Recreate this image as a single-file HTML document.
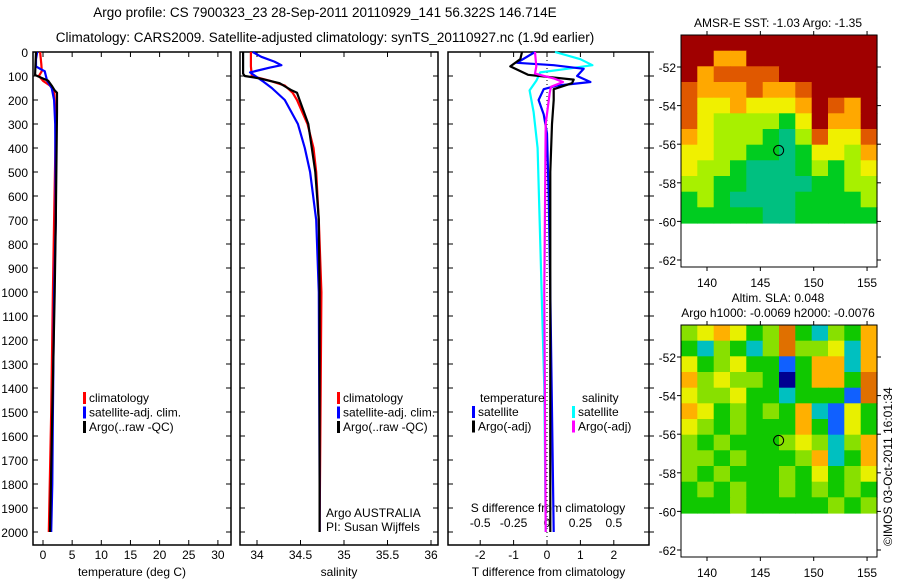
<!DOCTYPE html>
<html><head><meta charset="utf-8"><style>
body{margin:0;background:#fff}
svg{display:block;font-family:"Liberation Sans",sans-serif}
text{font-size:12px;fill:#000}
</style></head><body>
<svg id="fig" width="900" height="580" viewBox="0 0 900 580">
<text x="325" y="17" text-anchor="middle" style="font-size:13.5px">Argo profile: CS 7900323_23 28-Sep-2011 20110929_141 56.322S 146.714E</text>
<text x="325" y="42" text-anchor="middle" style="font-size:13.5px">Climatology: CARS2009. Satellite-adjusted climatology: synTS_20110927.nc (1.9d earlier)</text>
<text x="778" y="27" text-anchor="middle">AMSR-E SST: -1.03 Argo: -1.35</text>
<text x="778" y="302" text-anchor="middle">Altim. SLA: 0.048</text>
<text x="778" y="317" text-anchor="middle">Argo h1000: -0.0069 h2000: -0.0076</text>
<text transform="translate(892,546) rotate(-90)">©IMOS 03-Oct-2011 16:01:34</text>
<g id="g"></g>
</svg>
<script>
// ---- profile data ----
const depthTicks=[0,100,200,300,400,500,600,700,800,900,1000,1100,1200,1300,1400,1500,1600,1700,1800,1900,2000];
const tempTicks=[0,5,10,15,20,25,30];
const salTicks=[34,34.5,35,35.5,36];
const tdTicks=[-2,-1,0,1,2];
const sdTicks=[-0.5,-0.25,0,0.25,0.5];
const sdTickLabels=['-0.5','-0.25','0','0.25','0.5'];
const tArgoD=[0,30,60,96,105,120,140,160,170,250,700,1000,1500,2000];
const tArgoV=[-1.2,-1.25,-1.3,-1.35,-0.5,0.9,1.5,2.0,2.4,2.4,2.2,2.0,1.6,1.2];
const tClimD=[0,50,80,100,120,140,160,200,300,700,1000,1500,2000];
const tClimV=[-0.5,-0.3,-0.2,-0.7,0,1.2,1.9,2.0,2.2,1.9,1.7,1.4,1.0];
const tSatD=[0,30,60,70,80,100,120,150,200,300,700,1000,1500,1800,2000];
const tSatV=[-1.0,-1.2,-1.2,-0.5,0.3,0.5,0.7,1.5,1.9,2.1,2.2,1.9,1.7,1.6,1.4];
const sArgoD=[0,90,100,110,130,160,170,200,300,400,500,700,1000,2000];
const sArgoV=[33.84,33.84,33.86,34.03,34.26,34.40,34.46,34.49,34.59,34.63,34.67,34.71,34.72,34.72];
const sClimD=[0,60,100,120,140,170,200,300,400,500,700,1000,2000];
const sClimV=[33.93,33.93,33.94,34.15,34.32,34.41,34.46,34.58,34.65,34.68,34.71,34.74,34.72];
const sSatD=[0,20,40,55,65,85,100,120,150,200,300,400,500,700,1000,1800,2000];
const sSatV=[33.95,34.05,34.2,34.28,34.15,33.92,33.98,34.06,34.17,34.32,34.47,34.55,34.61,34.68,34.71,34.72,34.72];
const dTArgoD=[0,30,60,95,115,130,155,200,300,500,2000];
const dTArgoV=[-0.75,-0.8,-1.1,-0.57,0.8,0.75,0.2,0.2,0.15,0.1,0.1];
const dTSatD=[0,45,55,70,100,125,140,155,200,260,340,600,1000,2000];
const dTSatV=[-0.36,-0.9,0.2,1.1,0.9,1.3,0.3,-0.1,-0.25,-0.1,0,0.05,0.1,0.2];
const dSSatD=[0,30,55,70,85,120,160,250,400,800,1400,2000];
const dSSatV=[0.06,0.25,0.34,0.15,-0.05,-0.08,-0.13,-0.1,-0.07,-0.05,-0.02,-0.01];
const dSArgoD=[0,60,90,110,125,145,170,300,1000,2000];
const dSArgoV=[-0.09,-0.08,-0.09,0.05,0.12,0.03,0.02,-0.01,-0.02,-0.01];
// ---- map data ----
const sstRows=["666666666666","664466666666","645555666666","544454456666","533433346546","532222136446","432221025335","332211013324","322100012123","221100001122","121000011112","111110011111"];
const sstColors=["#00c080","#00cc20","#a8f000","#f0f000","#ffa800","#e05800","#a00000"];
const slaRows=["456534732436","324324744526","534533136626","645443036637","544533233317","653434362153","543433363153","434333454246","443433346236","434333435345","343433434343","333433333434"];
const slaColors=["#000090","#1060ff","#00c0c0","#10c800","#88e000","#e8f000","#ffb000","#e07000"];

const NS='http://www.w3.org/2000/svg';
const G=document.getElementById('g');
function mk(tag,attrs,parent){const e=document.createElementNS(NS,tag);for(const k in attrs)e.setAttribute(k,attrs[k]);(parent||G).appendChild(e);return e;}
function txt(x,y,s,anchor,parent){const t=mk('text',{x:x,y:y,'text-anchor':anchor||'start'},parent);t.textContent=s;return t;}

const TOP=52,BOT=545;
const yD=d=>TOP+d*0.24;
const panels=[
 {l:33,r:231,name:'temperature-panel',x:v=>43+5.83*v,ticks:tempTicks,labels:tempTicks.map(String),xlabel:'temperature (deg C)'},
 {l:240,r:438,name:'salinity-panel',x:v=>257+87*(v-34),ticks:salTicks,labels:salTicks.map(String),xlabel:'salinity'},
 {l:448,r:649,name:'difference-panel',x:v=>547+33.4*v,ticks:tdTicks,labels:tdTicks.map(String),xlabel:'T difference from climatology'}
];
panels.forEach((p,i)=>{
 const pg=mk('g',{});
 
 
 mk('rect',{x:p.l,y:TOP,width:p.r-p.l,height:BOT-TOP,fill:'#fff',stroke:'#000','stroke-width':1.5},pg);
 depthTicks.forEach(d=>{
  mk('line',{x1:p.l,x2:p.l+5,y1:yD(d),y2:yD(d),stroke:'#000'},pg);
  mk('line',{x1:p.r,x2:p.r-5,y1:yD(d),y2:yD(d),stroke:'#000'},pg);
  if(i==2) mk('line',{x1:p.r,x2:p.r+5,y1:yD(d),y2:yD(d),stroke:'#000'},pg);
 });
 p.ticks.forEach((v,j)=>{
  const x=p.x(v);
  mk('line',{x1:x,x2:x,y1:TOP,y2:TOP+5,stroke:'#000'},pg);
  mk('line',{x1:x,x2:x,y1:BOT,y2:BOT-5,stroke:'#000'},pg);
  const t=txt(x,559,p.labels[j],'middle',pg);
  
  
 });
 const xl=txt((p.l+p.r)/2,576,p.xlabel,'middle',pg);
 
 
});
depthTicks.forEach(d=>{
 const t=txt(28,yD(d)+5,String(d),'end');
 
 
});
const pd=panels[2];
sdTicks.forEach((v,j)=>{
 const t=txt(pd.x(v*4),527,sdTickLabels[j],'middle');
 
 
});
const sdl=txt(548,512,'S difference from climatology','middle');


const zl=mk('line',{x1:pd.x(0),x2:pd.x(0),y1:TOP,y2:BOT,stroke:'#000','stroke-dasharray':'1,3'});



function series(p,D,V,color,name,scale){
 const pts=D.map((d,k)=>p.x(V[k]*(scale||1)).toFixed(1)+','+yD(d).toFixed(1)).join(' ');
 const pl=mk('polyline',{points:pts,fill:'none',stroke:color,'stroke-width':2.2,'stroke-linejoin':'round'});
 
 
}
series(panels[0],tClimD,tClimV,'#f00','temp-climatology-line');
series(panels[0],tSatD,tSatV,'#00f','temp-satellite-line');
series(panels[0],tArgoD,tArgoV,'#000','temp-argo-line');
series(panels[1],sClimD,sClimV,'#f00','sal-climatology-line');
series(panels[1],sSatD,sSatV,'#00f','sal-satellite-line');
series(panels[1],sArgoD,sArgoV,'#000','sal-argo-line');
series(pd,dSSatD,dSSatV,'#0ff','s-diff-satellite-line',4);
series(pd,dTSatD,dTSatV,'#00f','t-diff-satellite-line');
series(pd,dTArgoD,dTArgoV,'#000','t-diff-argo-line');
series(pd,dSArgoD,dSArgoV,'#f0f','s-diff-argo-line',4);

function legend(x,y,items,name){
 const lg=mk('g',{});
 
 
 items.forEach((it,k)=>{
  if(it[1]) mk('rect',{x:x,y:y+k*14.5-10,width:3,height:12,fill:it[1]},lg);
  txt(x+(it[1]?6:0),y+k*14.5,it[0],'start',lg);
 });
}
legend(83,402,[['climatology','#f00'],['satellite-adj. clim.','#00f'],['Argo(..raw -QC)','#000']],'temp-legend');
legend(337,402,[['climatology','#f00'],['satellite-adj. clim.','#00f'],['Argo(..raw -QC)','#000']],'sal-legend');
legend(480,402,[['temperature',null]],'diff-legend-temp-head');
legend(472,416,[['satellite','#00f'],['Argo(-adj)','#000']],'diff-legend-temp');
legend(582,402,[['salinity',null]],'diff-legend-sal-head');
legend(572,416,[['satellite','#0ff'],['Argo(-adj)','#f0f']],'diff-legend-sal');
const ai=txt(326,517,'Argo AUSTRALIA');
const pi=txt(326,531,'PI: Susan Wijffels');

function map(top,rows,colors,name){
 const L=681,R=877,DB=top+188,AB=top+232;
 const lon=v=>707+(v-140)*10.67;
 const lat=v=>top+32+(-52-v)*19.3;
 const mg=mk('g',{});
 
 
 const nr=rows.length,nc=rows[0].length,cw=(R-L)/nc,ch=(DB-top)/nr;
 rows.forEach((row,r)=>{for(let c=0;c<nc;c++){
  const cell=mk('rect',{x:(L+c*cw).toFixed(1),y:(top+r*ch).toFixed(1),width:(cw+0.6).toFixed(1),height:(ch+0.6).toFixed(1),fill:colors[+row[c]]},mg);
  
  
 }});
 mk('rect',{x:L,y:top,width:R-L,height:AB-top,fill:'none',stroke:'#000','stroke-width':1},mg);
 [140,145,150,155].forEach(v=>{
  mk('line',{x1:lon(v),x2:lon(v),y1:top,y2:top-4,stroke:'#000'},mg);
  mk('line',{x1:lon(v),x2:lon(v),y1:AB,y2:AB+4,stroke:'#000'},mg);
  txt(lon(v),AB+20,String(v),'middle',mg);
 });
 [-52,-54,-56,-58,-60,-62].forEach(v=>{
  mk('line',{x1:L,x2:L-4,y1:lat(v),y2:lat(v),stroke:'#000'},mg);
  mk('line',{x1:R,x2:R+4,y1:lat(v),y2:lat(v),stroke:'#000'},mg);
  txt(L-5,lat(v)+5,String(v),'end',mg);
 });
 const m=mk('circle',{cx:lon(146.714),cy:lat(-56.322),r:5,fill:'none',stroke:'#000'},mg);
 
 
}
map(35,sstRows,sstColors,'sst-map');
map(325,slaRows,slaColors,'sla-map');
</script>
</body></html>
